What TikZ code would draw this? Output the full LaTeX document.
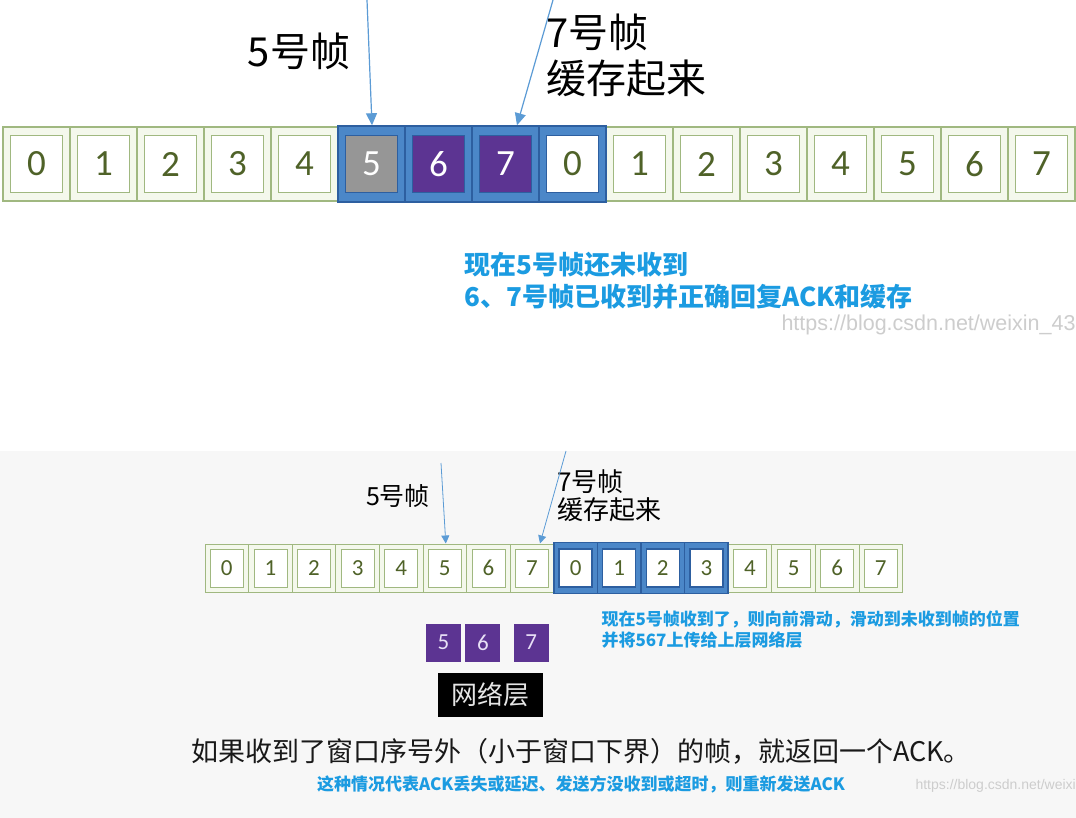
\documentclass[tikz,border=0pt]{standalone}
\usepackage{fontspec}
\setmainfont{Carlito}
\newfontfamily\cjk{Noto Sans CJK SC}
\newfontfamily\wmfont{Liberation Sans}
\usepackage{tikz}
\usetikzlibrary{arrows.meta,positioning,calc}

\definecolor{cellfill}{RGB}{244,248,236}
\definecolor{cellline}{RGB}{160,184,128}
\definecolor{digit}{RGB}{79,98,40}
\definecolor{winfill}{RGB}{75,135,200}
\definecolor{winline}{RGB}{45,95,160}
\definecolor{purp}{RGB}{92,52,146}
\definecolor{grey5}{RGB}{150,150,150}
\definecolor{ptrblue}{RGB}{91,155,213}
\definecolor{noteblue}{RGB}{27,155,225}
\definecolor{lav}{RGB}{232,224,246}
\definecolor{bgpale}{RGB}{247,247,247}
\definecolor{wmgrey}{RGB}{205,205,205}

\begin{document}
\begin{tikzpicture}[x=1pt, y=-1pt,
    outer/.style={draw=cellline, fill=cellfill, line width=1.2pt, minimum width=67pt, minimum height=74pt, inner sep=0pt},
    inner/.style={draw=cellline, fill=white, line width=1pt, minimum width=52pt, minimum height=57pt, inner sep=0pt, text=digit, font=\fontsize{37}{37}\selectfont},
    souter/.style={outer, minimum width=43.6pt, minimum height=48pt, line width=1pt},
    sinner/.style={inner, minimum width=33pt, minimum height=38pt, line width=0.8pt, font=\fontsize{23}{23}\selectfont},
    pbox/.style={fill=purp, minimum width=35pt, minimum height=38pt, inner sep=0pt, text=lav, font=\fontsize{23}{23}\selectfont},
    ptr/.style={-{Triangle[width=11pt,length=12pt]}, ptrblue, line width=1.2pt},
    ptrs/.style={-{Triangle[width=8pt,length=8pt]}, ptrblue, line width=0.8pt},
    note/.style={text=noteblue, align=left, anchor=north west}
]
\useasboundingbox (0,0) rectangle (1076,818);
\fill[white] (0,0) rectangle (1076,451);
\fill[bgpale] (0,451) rectangle (1076,818);

% upper row: window holds 5 6 7 0
\foreach \i in {0,1,2,3,4,9,10,11,12,13,14,15} {
  \pgfmathtruncatemacro\n{mod(\i,8)}
  \node[outer] (t\i) at (36.5+67*\i,164) {};
  \node[inner] (ti\i) at (t\i) {\n};
}
\foreach \i/\f/\c in {5/grey5/white, 6/purp/white, 7/purp/white, 8/white/digit} {
  \pgfmathtruncatemacro\n{mod(\i,8)}
  \node[outer, draw=winline, fill=winfill, line width=1.5pt, minimum height=76pt] (t\i) at (36.5+67*\i,164) {};
  \node[inner, draw=winline, fill=\f, text=\c] (ti\i) at (t\i) {\n};
}

\node[font=\cjk\fontsize{40}{40}\selectfont] (lab5) at (299,51) {5号帧};
\node[font=\cjk\fontsize{40}{46}\selectfont, align=left, anchor=north west] (lab7) at (543,10) {7号帧\\缓存起来};
\coordinate (p5) at (367,0);
\coordinate (p7) at (553,0);
\draw[ptr] (p5) -- ([xshift=0.5pt]t5.north);
\draw[ptr] (p7) -- ([xshift=11.5pt]t7.north);

\node[note, font=\cjk\bfseries\fontsize{26}{32}\selectfont] (state) at (461,249) {现在5号帧还未收到\\6、7号帧已收到并正确回复ACK和缓存};
\node[text=wmgrey, anchor=west, font=\wmfont\fontsize{21.5}{21.5}\selectfont] (wm1) at (778,325) {https://blog.csdn.net/weixin\_43};

% lower row: window slid to 0 1 2 3
\foreach \i in {0,1,2,3,4,5,6,7,12,13,14,15} {
  \pgfmathtruncatemacro\n{mod(\i,8)}
  \node[souter] (b\i) at (226.8+43.6*\i,568) {};
  \node[sinner] (bi\i) at (b\i) {\n};
}
\foreach \i in {8,9,10,11} {
  \pgfmathtruncatemacro\n{mod(\i,8)}
  \node[souter, draw=winline, fill=winfill, line width=1.5pt, minimum height=51pt] (b\i) at (226.8+43.6*\i,568) {};
  \node[sinner, draw=winline, line width=1.5pt] (bi\i) at (b\i) {\n};
}

\node[font=\cjk\fontsize{25}{25}\selectfont] (slab5) at (398,496) {5号帧};
\node[font=\cjk\fontsize{26}{28}\selectfont, align=left, anchor=north west] (slab7) at (554,466) {7号帧\\缓存起来};
\coordinate (q5) at (441,463);
\coordinate (q7) at (566,451);
\draw[ptrs] (q5) -- ([xshift=1pt]b5.north);
\draw[ptrs] (q7) -- ([xshift=8pt]b7.north);

\node[note, font=\cjk\bfseries\fontsize{17}{21}\selectfont] (slide) at (598,607) {现在5号帧收到了，则向前滑动，滑动到未收到帧的位置\\并将567上传给上层网络层};

\node[pbox] (r5) at (443.5,642.5) {5};
\node[pbox, right=4pt of r5] (r6) {6};
\node[pbox, right=13pt of r6] (r7) {7};
\node[fill=black, minimum width=105pt, minimum height=44pt, text=white!90!black, font=\cjk\fontsize{26}{26}\selectfont] (net) at (490.5,695) {网络层};

\node[font=\cjk\fontsize{27}{27}\selectfont, text=black!90] (rule) at (581,751) {如果收到了窗口序号外（小于窗口下界）的帧，就返回一个ACK。};
\node[text=noteblue, font=\cjk\bfseries\fontsize{17}{17}\selectfont] (why) at (581,784) {这种情况代表ACK丢失或延迟、发送方没收到或超时，则重新发送ACK};
\node[text=wmgrey, anchor=west, font=\wmfont\fontsize{14}{14}\selectfont] (wm2) at (912,786) {https://blog.csdn.net/weixi};
\end{tikzpicture}
\end{document}
